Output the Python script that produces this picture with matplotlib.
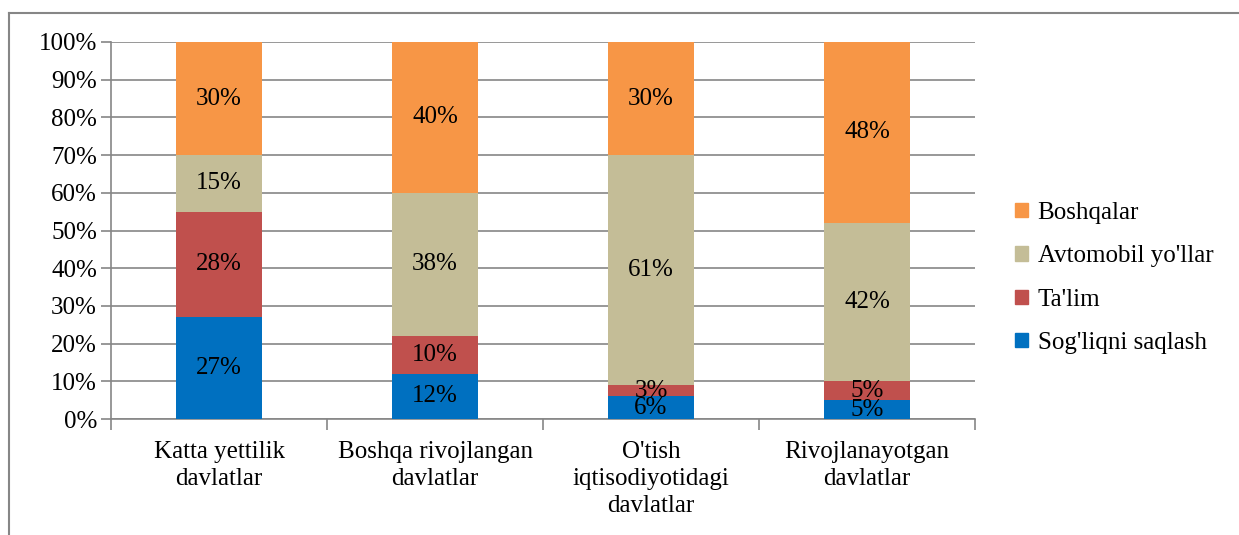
import matplotlib
matplotlib.use("Agg")
import matplotlib.pyplot as plt
from matplotlib.lines import Line2D
from matplotlib.patches import Patch
from matplotlib.font_manager import FontProperties
import numpy as np

FAM = 'Liberation Serif'
plt.rcParams['font.family'] = FAM

categories = ["Katta yettilik\ndavlatlar", "Boshqa rivojlangan\ndavlatlar",
              "O'tish\niqtisodiyotidagi\ndavlatlar", "Rivojlanayotgan\ndavlatlar"]
series_names = ["Sog'liqni saqlash", "Ta'lim", "Avtomobil yo'llar", "Boshqalar"]
sogliq = [27, 12, 6, 5]
talim = [28, 10, 3, 5]
avto = [15, 38, 61, 42]
boshqa = [30, 40, 30, 48]
colors = ["#0070C0", "#C0504D", "#C4BD97", "#F79646"]

series = [sogliq, talim, avto, boshqa]
data = np.array(series, dtype=float)
totals = data.sum(axis=0)
pct = data / totals * 100

FS = 18
fig = plt.figure(figsize=(12.39, 5.35), dpi=100)
ax = fig.add_axes([111/1239, 1-419/535, (975-111)/1239, (419-42)/535])

x = np.arange(len(categories))
bottom = np.zeros(len(categories))
for i, (vals, col) in enumerate(zip(pct, colors)):
    ax.bar(x, vals, 0.4, bottom=bottom, color=col, zorder=3, label=series_names[i])
    for j, v in enumerate(vals):
        ax.text(x[j], bottom[j] + v/2, f"{series[i][j]}%", ha='center', va='center',
                fontsize=FS, family=FAM, color='black', zorder=4)
    bottom += vals

ax.set_xlim(-0.5, len(categories) - 0.5)
ax.set_ylim(0, 100)
ax.set_yticks(np.arange(0, 101, 10))
ax.set_yticklabels([f"{v}%" for v in range(0, 101, 10)], fontsize=FS, family=FAM)
ax.yaxis.grid(True, color='#868686', linewidth=1.2, zorder=0)
ax.set_xticks(x)
ax.set_xticklabels(categories, fontsize=FS, family=FAM, linespacing=1.3, va='top')
ax.tick_params(axis='x', length=0, pad=16)
ax.tick_params(axis='y', length=7, color='#868686', width=1.2, pad=3)
ax.set_xticks(np.arange(-0.5, len(categories)), minor=True)
ax.tick_params(axis='x', which='minor', length=8, color='#868686', width=1.2)
for s in ['top', 'right']:
    ax.spines[s].set_visible(False)
for s in ['left', 'bottom']:
    ax.spines[s].set_color('#868686')
    ax.spines[s].set_linewidth(1.2)

handles = [Patch(color=c) for c in colors[::-1]]
leg = fig.legend(handles, series_names[::-1], loc='center left',
                 bbox_to_anchor=(1015/1239, 1-278/535), frameon=False,
                 prop=FontProperties(family=FAM, size=FS),
                 handlelength=0.5, handleheight=0.5, handletextpad=0.4, labelspacing=0.85,
                 borderpad=0, borderaxespad=0)

fig.add_artist(Line2D([9/1239, 9/1239], [0, 1-13/535], transform=fig.transFigure,
                      color='#868686', linewidth=1.5))
fig.add_artist(Line2D([9/1239, 1], [1-13/535, 1-13/535], transform=fig.transFigure,
                      color='#868686', linewidth=1.5))

fig.savefig("out.png", dpi=100)
